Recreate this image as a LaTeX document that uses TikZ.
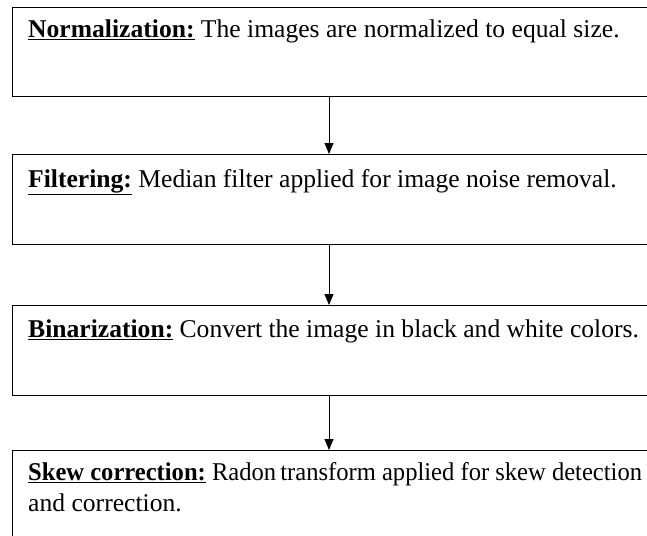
\documentclass[tikz,border=0pt]{standalone}
\usepackage{fontspec}
\setmainfont{Liberation Serif}
\usetikzlibrary{arrows.meta}
\begin{document}
\begin{tikzpicture}[x=1pt,y=-1pt,
  box/.style={draw, line width=1.2pt, minimum width=640pt, anchor=north west, inner sep=0pt},
  lbl/.style={anchor=base west, inner sep=0pt, font=\fontsize{25.6}{31}\selectfont},
  flow/.style={line width=0.9pt, -{Triangle[length=11pt,width=9pt]}}]
\useasboundingbox (0,0) rectangle (647,535);
\node[box, minimum height=89pt] (b1) at (12,7) {};
\node[box, minimum height=90pt] (b2) at (12,154) {};
\node[box, minimum height=90pt] (b3) at (12,305) {};
\node[box, minimum height=120pt] (b4) at (12,450) {};
\coordinate (ax) at (329,0);
\node[lbl] (t1) at (28,37.5) {\textbf{\underline{Normalization:}} The images are normalized to equal size.};
\node[lbl] (t2) at (28,187) {\textbf{\underline{Filtering:}} Median filter applied for image noise removal.};
\node[lbl] (t3) at (28,337) {\textbf{\underline{Binarization:}} Convert the image in black and white colors.};
\node[lbl] (t4) at (28,480) {\scalebox{0.96}[1]{\textbf{\underline{Skew correction:}} Radon\hspace{-2pt} transform applied for skew detection}};
\node[lbl] (t5) at (28,511) {and correction.};
\draw[flow] (b1.south -| ax) -- (b2.north -| ax);
\draw[flow] (b2.south -| ax) -- (b3.north -| ax);
\draw[flow] (b3.south -| ax) -- (b4.north -| ax);
\end{tikzpicture}
\end{document}
